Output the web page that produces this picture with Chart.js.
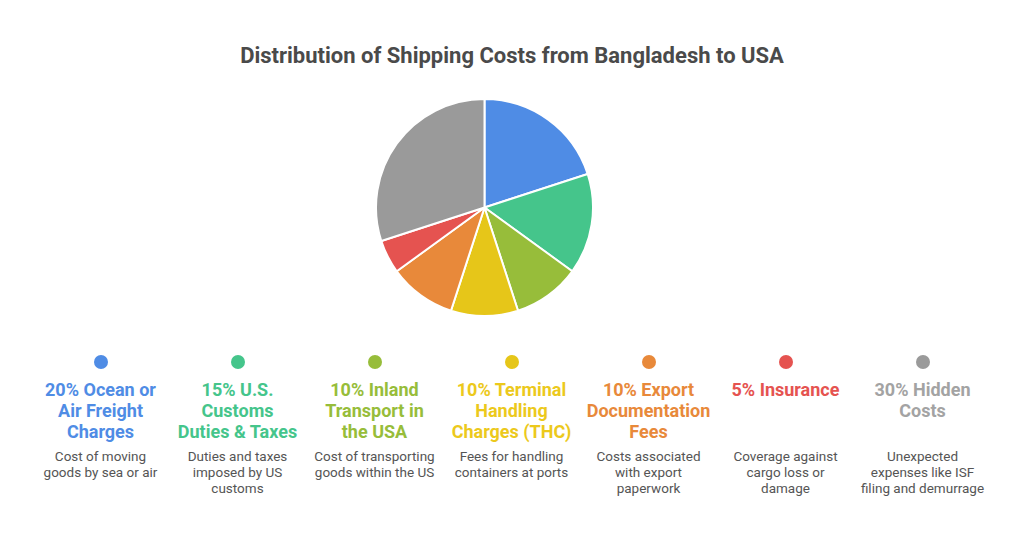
<!DOCTYPE html>
<html lang="en">
<head>
    <meta charset="UTF-8">
    <title>Shipping Costs</title>
    <style>
        html, body { margin: 0; padding: 0; background: #fff; }
        body { width: 1024px; height: 538px; position: relative; overflow: hidden; font-family: Roboto, "Noto Sans", Arial, sans-serif; }
        #title { position: absolute; top: 42px; left: 0; width: 1024px; text-align: center; font-size: 22px; font-weight: bold; color: #4a4a4a; line-height: 28px; }
        #pie-box { position: absolute; left: 375px; top: 98px; width: 219px; height: 219px; }
        #legend { position: absolute; left: 32px; top: 355px; width: 959px; display: flex; }
        .col { width: 137px; text-align: center; }
        .dot { width: 14px; height: 14px; border-radius: 50%; margin: 0 auto; }
        .name { height: 63px; margin-top: 10px; font-size: 18px; font-weight: bold; line-height: 21px; }
        .desc { margin-top: 6px; font-size: 13.5px; line-height: 16px; color: #555; }
    </style>
</head>
<body>
    <div id="title">Distribution of Shipping Costs from Bangladesh to USA</div>
    <div id="pie-box"><canvas id="costChart" width="219" height="219"></canvas></div>
    <div id="legend"></div>

    <script src="https://cdn.jsdelivr.net/npm/chart.js"></script>
    <script>
        // slices, clockwise from 12 o'clock
        const labels = ['Ocean or Air Freight Charges', 'U.S. Customs Duties & Taxes', 'Inland Transport in the USA',
                        'Terminal Handling Charges (THC)', 'Export Documentation Fees', 'Insurance', 'Hidden Costs'];
        const shares = [20, 15, 10, 10, 10, 5, 30];
        const colors = ['#4f8ce5', '#45c58b', '#97bd3a', '#e6c619', '#e8893a', '#e55350', '#9a9a9a'];

        // how the legend titles and notes break in the picture
        const titleLines = [
            ['20% Ocean or', 'Air Freight', 'Charges'],
            ['15% U.S.', 'Customs', 'Duties & Taxes'],
            ['10% Inland', 'Transport in', 'the USA'],
            ['10% Terminal', 'Handling', 'Charges (THC)'],
            ['10% Export', 'Documentation', 'Fees'],
            ['5% Insurance'],
            ['30% Hidden', 'Costs']
        ];
        const descLines = [
            ['Cost of moving', 'goods by sea or air'],
            ['Duties and taxes', 'imposed by US', 'customs'],
            ['Cost of transporting', 'goods within the US'],
            ['Fees for handling', 'containers at ports'],
            ['Costs associated', 'with export', 'paperwork'],
            ['Coverage against', 'cargo loss or', 'damage'],
            ['Unexpected', 'expenses like ISF', 'filing and demurrage']
        ];
        const titleColors = ['#4f8ce5', '#45c58b', '#97bd3a', '#ecc91c', '#e8893a', '#e55350', '#a3a3a3'];

        new Chart(document.getElementById('costChart').getContext('2d'), {
            type: 'pie',
            data: { labels: labels, datasets: [{ data: shares, backgroundColor: colors, borderColor: '#fff', borderWidth: 2 }] },
            options: {
                responsive: false,
                animation: false,
                layout: { padding: 0 },
                plugins: { legend: { display: false }, tooltip: { enabled: false } }
            }
        });

        const legend = document.getElementById('legend');
        labels.forEach((lab, i) => {
            const col = document.createElement('div');
            col.className = 'col';
            const dot = document.createElement('div');
            dot.className = 'dot';
            dot.style.background = colors[i];
            const name = document.createElement('div');
            name.className = 'name';
            name.style.color = titleColors[i];
            name.innerHTML = titleLines[i].map(t => t.replace('&', '&amp;')).join('<br>');
            const desc = document.createElement('div');
            desc.className = 'desc';
            desc.innerHTML = descLines[i].join('<br>');
            col.appendChild(dot);
            col.appendChild(name);
            col.appendChild(desc);
            legend.appendChild(col);
        });
    </script>
</body>
</html>
